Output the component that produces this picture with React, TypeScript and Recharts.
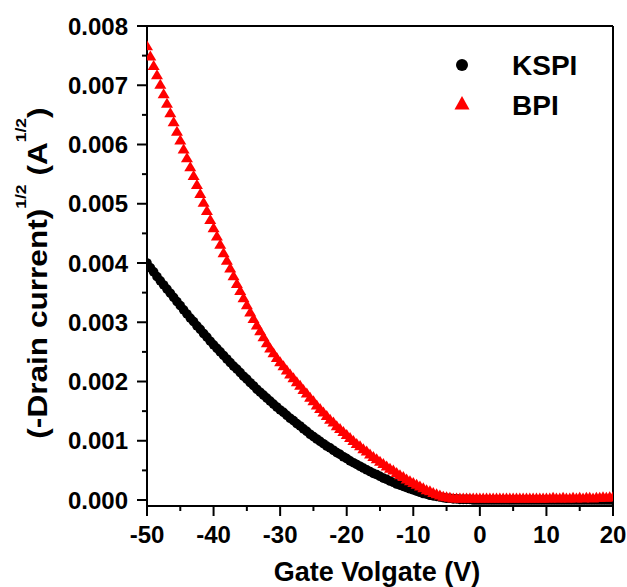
import React from 'react';
import { ScatterChart, Scatter, XAxis, YAxis, ReferenceLine } from 'recharts';

// gate voltage sweep (V), 0.5 V steps
const gateVoltage = [
  -50, -49.5, -49, -48.5, -48, -47.5, -47, -46.5, -46, -45.5,
  -45, -44.5, -44, -43.5, -43, -42.5, -42, -41.5, -41, -40.5,
  -40, -39.5, -39, -38.5, -38, -37.5, -37, -36.5, -36, -35.5,
  -35, -34.5, -34, -33.5, -33, -32.5, -32, -31.5, -31, -30.5,
  -30, -29.5, -29, -28.5, -28, -27.5, -27, -26.5, -26, -25.5,
  -25, -24.5, -24, -23.5, -23, -22.5, -22, -21.5, -21, -20.5,
  -20, -19.5, -19, -18.5, -18, -17.5, -17, -16.5, -16, -15.5,
  -15, -14.5, -14, -13.5, -13, -12.5, -12, -11.5, -11, -10.5,
  -10, -9.5, -9, -8.5, -8, -7.5, -7, -6.5, -6, -5.5,
  -5, -4.5, -4, -3.5, -3, -2.5, -2, -1.5, -1, -0.5,
  0, 0.5, 1, 1.5, 2, 2.5, 3, 3.5, 4, 4.5,
  5, 5.5, 6, 6.5, 7, 7.5, 8, 8.5, 9, 9.5,
  10, 10.5, 11, 11.5, 12, 12.5, 13, 13.5, 14, 14.5,
  15, 15.5, 16, 16.5, 17, 17.5, 18, 18.5, 19, 19.5,
  20,
];

// sqrt(-Id) for KSPI
const kspiCurrent = [
  0.00400, 0.00392, 0.00385, 0.00377, 0.00370, 0.00363, 0.00356, 0.00349, 0.00342, 0.00335,
  0.00328, 0.00321, 0.00314, 0.00307, 0.00301, 0.00294, 0.00288, 0.00281, 0.00275, 0.00268,
  0.00262, 0.00256, 0.00250, 0.00244, 0.00238, 0.00232, 0.00226, 0.00221, 0.00215, 0.00209,
  0.00204, 0.00198, 0.00193, 0.00187, 0.00182, 0.00177, 0.00172, 0.00167, 0.00162, 0.00157,
  0.00152, 0.00148, 0.00143, 0.00138, 0.00134, 0.00129, 0.00125, 0.00120, 0.00116, 0.00111,
  0.00107, 0.00103, 0.00099, 0.00095, 0.00091, 0.00088, 0.00084, 0.00080, 0.00077, 0.00073,
  0.00070, 0.00066, 0.00063, 0.00060, 0.00057, 0.00054, 0.00051, 0.00048, 0.00045, 0.00043,
  0.00040, 0.00037, 0.00035, 0.00032, 0.00030, 0.00027, 0.00025, 0.00023, 0.00021, 0.00019,
  0.00017, 0.00015, 0.00013, 0.00011, 0.00010, 0.00008, 0.00007, 0.00006, 0.00005, 0.00004,
  0.00003, 0.00003, 0.00002, 0.00002, 0.00001, 0.00001, 0.00001, 0.00001, 0.00000, 0.00000,
  0.00000, 0.00000, 0.00000, 0.00000, 0.00000, 0.00000, 0.00000, 0.00000, 0.00000, 0.00000,
  0.00000, 0.00000, 0.00000, 0.00000, 0.00000, 0.00000, 0.00000, 0.00000, 0.00000, 0.00000,
  0.00000, 0.00000, 0.00000, 0.00000, 0.00000, 0.00000, 0.00000, 0.00000, 0.00000, 0.00000,
  0.00000, 0.00000, 0.00000, 0.00000, 0.00000, 0.00000, 0.00000, 0.00000, 0.00000, 0.00000,
  0.00000,
];

// sqrt(-Id) for BPI
const bpiCurrent = [
  0.00765, 0.00748, 0.00732, 0.00716, 0.00700, 0.00684, 0.00668, 0.00652, 0.00637, 0.00621,
  0.00606, 0.00591, 0.00576, 0.00561, 0.00546, 0.00531, 0.00516, 0.00501, 0.00487, 0.00472,
  0.00458, 0.00444, 0.00430, 0.00416, 0.00403, 0.00390, 0.00377, 0.00364, 0.00352, 0.00340,
  0.00328, 0.00316, 0.00305, 0.00294, 0.00284, 0.00274, 0.00264, 0.00255, 0.00247, 0.00239,
  0.00232, 0.00225, 0.00218, 0.00211, 0.00205, 0.00198, 0.00192, 0.00185, 0.00179, 0.00172,
  0.00166, 0.00159, 0.00153, 0.00147, 0.00141, 0.00135, 0.00130, 0.00124, 0.00119, 0.00114,
  0.00109, 0.00104, 0.00099, 0.00094, 0.00090, 0.00085, 0.00081, 0.00076, 0.00072, 0.00068,
  0.00064, 0.00060, 0.00056, 0.00052, 0.00049, 0.00045, 0.00041, 0.00038, 0.00034, 0.00031,
  0.00028, 0.00025, 0.00022, 0.00019, 0.00016, 0.00014, 0.00011, 0.00009, 0.00007, 0.00005,
  0.00004, 0.00003, 0.00002, 0.00002, 0.00002, 0.00002, 0.00002, 0.00002, 0.00002, 0.00002,
  0.00002, 0.00002, 0.00002, 0.00002, 0.00002, 0.00002, 0.00002, 0.00002, 0.00002, 0.00002,
  0.00002, 0.00002, 0.00002, 0.00002, 0.00002, 0.00002, 0.00002, 0.00002, 0.00002, 0.00002,
  0.00002, 0.00002, 0.00003, 0.00002, 0.00002, 0.00003, 0.00002, 0.00002, 0.00003, 0.00002,
  0.00003, 0.00002, 0.00003, 0.00003, 0.00002, 0.00003, 0.00003, 0.00004, 0.00003, 0.00004,
  0.00004,
];

const xTicks = [-50, -45, -40, -35, -30, -25, -20, -15, -10, -5, 0, 5, 10, 15, 20];
const yTicks = [
  0, 0.0005, 0.001, 0.0015, 0.002, 0.0025, 0.003, 0.0035, 0.004,
  0.0045, 0.005, 0.0055, 0.006, 0.0065, 0.007, 0.0075, 0.008,
];

const seriesNames = ['KSPI', 'BPI'];

const kspiData = gateVoltage.map((v, i) => ({ v, c: kspiCurrent[i] }));
const bpiData = gateVoltage.map((v, i) => ({ v, c: bpiCurrent[i] }));

const FONT = '"Liberation Sans", Arial, Helvetica, sans-serif';

const YTick = (props: any) => {
  const { x, y, payload } = props;
  const v = payload.value;
  const major = Math.abs(v * 1000 - Math.round(v * 1000)) < 1e-6;
  return (
    <g>
      <line x1={x} x2={x - (major ? 10 : 5)} y1={y} y2={y} stroke="#000" strokeWidth={2} />
      {major && (
        <text x={x - 19} y={y} dy="0.36em" textAnchor="end" fontFamily={FONT} fontWeight="bold" fontSize={24} fill="#000">
          {v.toFixed(3)}
        </text>
      )}
    </g>
  );
};

const XTick = (props: any) => {
  const { x, y, payload } = props;
  const v = payload.value;
  const major = v % 10 === 0;
  return (
    <g>
      <line x1={x} x2={x} y1={y} y2={y + (major ? 10 : 5)} stroke="#000" strokeWidth={2} />
      {major && (
        <text x={x} y={y + 37} textAnchor="middle" fontFamily={FONT} fontWeight="bold" fontSize={24} fill="#000">
          {v}
        </text>
      )}
    </g>
  );
};

const Dot = (props: any) => <circle cx={props.cx} cy={props.cy} r={4.8} fill="#000" />;

const Tri = (props: any) => {
  const { cx, cy } = props;
  return <polygon points={`${cx},${cy - 6.4} ${cx - 6},${cy + 3.6} ${cx + 6},${cy + 3.6}`} fill="#ff0000" />;
};

const App = () => {
  return (
    <div style={{ position: 'absolute', left: 0, top: 0, width: 627, height: 587, background: '#fff' }}>
      <ScatterChart width={627} height={587} margin={{ top: 26, right: 14, left: 0, bottom: 0 }}>
        <XAxis
          type="number"
          dataKey="v"
          domain={[-50, 20]}
          ticks={xTicks}
          interval={0}
          allowDataOverflow
          height={81}
          tickSize={0}
          tickMargin={0}
          tickLine={false}
          axisLine={{ stroke: '#000', strokeWidth: 2 }}
          tick={<XTick />}
        />
        <YAxis
          type="number"
          dataKey="c"
          domain={[-0.000101, 0.008]}
          ticks={yTicks}
          interval={0}
          allowDataOverflow
          width={147}
          tickSize={0}
          tickMargin={0}
          tickLine={false}
          axisLine={{ stroke: '#000', strokeWidth: 2 }}
          tick={<YTick />}
        />
        <ReferenceLine y={0.008} stroke="#000" strokeWidth={2} />
        <ReferenceLine x={20} stroke="#000" strokeWidth={2} />
        <Scatter name={seriesNames[0]} data={kspiData} shape={<Dot />} isAnimationActive={false} />
        <Scatter name={seriesNames[1]} data={bpiData} shape={<Tri />} isAnimationActive={false} />
      </ScatterChart>
      <svg width={627} height={587} style={{ position: 'absolute', left: 0, top: 0, pointerEvents: 'none' }}>
        <text x={377} y={581} textAnchor="middle" fontFamily={FONT} fontWeight="bold" fontSize={27} fill="#000">
          Gate Volgate (V)
        </text>
        <text
          transform="translate(47,273) rotate(-90) scale(1.17,1)"
          x={0}
          y={0}
          textAnchor="middle"
          fontFamily={FONT}
          fontWeight="bold"
          fontSize={27}
          fill="#000"
        >
          (-Drain current)
          <tspan fontSize={15} dy={-21}>1/2</tspan>
          <tspan dy={21}> (A</tspan>
          <tspan fontSize={15} dy={-21}>1/2</tspan>
          <tspan dy={21}>)</tspan>
        </text>
        <circle cx={462} cy={65} r={6} fill="#000" />
        <text x={512} y={75} fontFamily={FONT} fontWeight="bold" fontSize={28} fill="#000">
          {seriesNames[0]}
        </text>
        <polygon points="462,96 454.5,109.5 469.5,109.5" fill="#ff0000" />
        <text x={512} y={115} fontFamily={FONT} fontWeight="bold" fontSize={28} fill="#000">
          {seriesNames[1]}
        </text>
      </svg>
    </div>
  );
};

export default App;
